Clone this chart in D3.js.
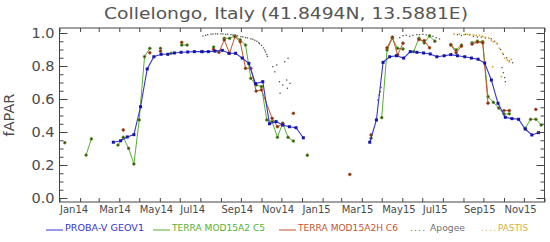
<!DOCTYPE html>
<html>
<head>
<meta charset="utf-8">
<script src="https://cdnjs.cloudflare.com/ajax/libs/d3/7.8.5/d3.min.js"></script>
<style>
    body { margin: 0; background: #ffffff; }
    svg { display: block; font-family: 'DejaVu Sans', sans-serif; }
</style>
</head>
<body>
<svg></svg>
<script>
// Chart texts
let title = 'Collelongo, Italy (41.8494N, 13.5881E)';
let yLabel = 'fAPAR';
let xDomain = ['2014-01-01', '2016-01-01'];
let yMajorTicks = [0, 0.2, 0.4, 0.6, 0.8, 1.0];
let yMinorTicks = [0.05, 0.1, 0.15, 0.25, 0.3, 0.35, 0.45, 0.5, 0.55, 0.65, 0.7, 0.75, 0.85, 0.9, 0.95];

// Series data: [date, fAPAR]; [null, null] breaks the line
let probaV = [
    ['2014-03-23', 0.338], ['2014-04-03', 0.347], ['2014-04-13', 0.37], ['2014-04-23', 0.384],
    ['2014-05-03', 0.553], ['2014-05-13', 0.782], ['2014-05-23', 0.856], ['2014-06-03', 0.871],
    ['2014-06-13', 0.871], ['2014-06-23', 0.879], ['2014-07-03', 0.883], ['2014-07-13', 0.885],
    ['2014-07-23', 0.887], ['2014-08-03', 0.887], ['2014-08-13', 0.887], ['2014-08-23', 0.89],
    ['2014-09-03', 0.895], ['2014-09-13', 0.877], ['2014-09-23', 0.877], ['2014-10-03', 0.848],
    ['2014-10-13', 0.816], ['2014-10-23', 0.693], ['2014-11-03', 0.705], ['2014-11-13', 0.45],
    ['2014-11-23', 0.463], ['2014-12-03', 0.442], ['2014-12-13', 0.432], ['2014-12-23', 0.426],
    ['2015-01-03', 0.365], [null, null],
    ['2015-04-13', 0.338], ['2015-04-23', 0.473], ['2015-05-03', 0.822], ['2015-05-13', 0.856],
    ['2015-05-23', 0.862], ['2015-06-03', 0.848], ['2015-06-13', 0.887], ['2015-06-23', 0.883],
    ['2015-07-03', 0.879], ['2015-07-13', 0.873], ['2015-07-23', 0.856], ['2015-08-03', 0.862],
    ['2015-08-13', 0.869], ['2015-08-23', 0.862], ['2015-09-03', 0.856], ['2015-09-13', 0.848],
    ['2015-09-23', 0.841], ['2015-10-03', 0.818], ['2015-10-13', 0.715], ['2015-10-23', 0.574],
    ['2015-11-03', 0.489], ['2015-11-13', 0.481], ['2015-11-23', 0.477], ['2015-12-03', 0.418],
    ['2015-12-13', 0.382], ['2015-12-23', 0.396]
];

let terraC5 = [
    ['2014-01-09', 0.335], [null, null],
    ['2014-02-10', 0.26], ['2014-02-18', 0.358], [null, null],
    ['2014-03-30', 0.321], ['2014-04-07', 0.368], ['2014-04-15', 0.301], ['2014-04-23', 0.206],
    ['2014-05-01', 0.473], ['2014-05-09', 0.856], ['2014-05-17', 0.907], [null, null],
    ['2014-06-02', 0.907], [null, null],
    ['2014-06-18', 0.877], [null, null],
    ['2014-07-04', 0.927], ['2014-07-12', 0.927], [null, null],
    ['2014-08-05', 0.887], [null, null],
    ['2014-08-21', 0.915], [null, null],
    ['2014-09-06', 0.968], ['2014-09-14', 0.968], ['2014-09-22', 0.982], ['2014-09-30', 0.958],
    ['2014-10-08', 0.927], ['2014-10-16', 0.725], ['2014-10-24', 0.685], ['2014-11-01', 0.675],
    ['2014-11-09', 0.473], ['2014-11-17', 0.463], ['2014-11-25', 0.368], ['2014-12-03', 0.453],
    ['2014-12-11', 0.368], ['2014-12-19', 0.345], [null, null],
    ['2015-01-09', 0.259], [null, null],
    ['2015-04-15', 0.362], [null, null],
    ['2015-05-01', 0.487], ['2015-05-09', 0.897], ['2015-05-17', 0.968], ['2015-05-25', 0.907],
    ['2015-06-02', 0.903], [null, null],
    ['2015-06-18', 0.887], ['2015-06-26', 0.968], ['2015-07-04', 0.94], ['2015-07-12', 0.982],
    ['2015-07-20', 0.95], [null, null],
    ['2015-08-13', 0.93], ['2015-08-21', 0.897], ['2015-08-29', 0.927], [null, null],
    ['2015-09-14', 0.94], ['2015-09-22', 0.95], ['2015-09-30', 0.947], ['2015-10-08', 0.614],
    ['2015-10-16', 0.58], ['2015-10-24', 0.545], ['2015-11-01', 0.509], ['2015-11-09', 0.51], [null, null],
    ['2015-12-03', 0.422], ['2015-12-11', 0.477], ['2015-12-19', 0.477], ['2015-12-27', 0.442]
];

let terraC6 = [
    ['2014-04-07', 0.412], [null, null],
    ['2014-05-17', 0.88], [null, null],
    ['2014-06-02', 0.89], [null, null],
    ['2014-07-04', 0.943], [null, null],
    ['2014-08-21', 0.9], ['2014-08-29', 0.883], ['2014-09-06', 0.958], ['2014-09-14', 0.877],
    ['2014-09-22', 0.978], ['2014-09-30', 0.947], ['2014-10-08', 0.786], ['2014-10-16', 0.786],
    ['2014-10-24', 0.648], ['2014-11-01', 0.655], ['2014-11-17', 0.483], ['2014-11-25', 0.432],
    ['2014-12-03', 0.45], [null, null],
    ['2014-12-19', 0.513], [null, null],
    ['2015-03-14', 0.143], [null, null],
    ['2015-04-15', 0.382], [null, null],
    ['2015-05-09', 0.91], ['2015-05-17', 0.975], ['2015-05-25', 0.867], ['2015-06-02', 0.938], [null, null],
    ['2015-06-26', 0.96], ['2015-07-04', 0.953], ['2015-07-12', 0.91], [null, null],
    ['2015-08-13', 0.927], ['2015-08-21', 0.88], ['2015-08-29', 0.92], [null, null],
    ['2015-09-14', 0.933], ['2015-09-22', 0.945], ['2015-09-30', 0.94], ['2015-10-08', 0.575], [null, null],
    ['2015-11-01', 0.53], ['2015-11-09', 0.53], [null, null],
    ['2015-12-19', 0.537]
];

let apogee = [
    ['2014-08-05', 0.982], ['2014-08-09', 0.986], ['2014-08-12', 0.99], ['2014-08-17', 0.993],
    ['2014-08-20', 0.994], ['2014-08-24', 0.995], ['2014-08-27', 0.994], ['2014-09-01', 0.995],
    ['2014-09-04', 0.994], ['2014-09-08', 0.992], ['2014-09-11', 0.993], ['2014-09-16', 0.99],
    ['2014-09-19', 0.988], ['2014-09-23', 0.985], ['2014-09-26', 0.983], ['2014-10-01', 0.978],
    ['2014-10-04', 0.977], ['2014-10-08', 0.972], ['2014-10-11', 0.97], ['2014-10-16', 0.965],
    ['2014-10-19', 0.962], ['2014-10-22', 0.956], ['2014-10-25', 0.95], ['2014-10-28', 0.942],
    ['2014-10-29', 0.935], ['2014-11-01', 0.925], ['2014-11-04', 0.91], ['2014-11-06', 0.897],
    ['2014-11-07', 0.885], ['2014-11-09', 0.87], ['2014-11-10', 0.858],
    ['2014-11-18', 0.796], ['2014-11-21', 0.765], ['2014-11-24', 0.806], ['2014-11-28', 0.705],
    ['2014-11-29', 0.635], ['2014-12-03', 0.685], ['2014-12-06', 0.826], ['2014-12-09', 0.715],
    ['2014-12-10', 0.665], ['2014-12-11', 0.847], ['2014-12-14', 0.695],
    ['2015-04-25', 0.594], ['2015-04-27', 0.624], ['2015-04-29', 0.644], ['2015-04-30', 0.67],
    ['2015-05-28', 0.972], ['2015-06-02', 0.984], ['2015-06-07', 0.986], ['2015-06-12', 0.98],
    ['2015-06-17', 0.985], ['2015-06-23', 0.99], ['2015-06-27', 0.99], ['2015-07-02', 0.992],
    ['2015-07-07', 0.988], ['2015-07-12', 0.985], ['2015-07-17', 0.98], ['2015-07-22', 0.972],
    ['2015-07-27', 0.964],
    ['2015-08-23', 0.99], ['2015-08-29', 0.985], ['2015-09-04', 0.992], ['2015-09-10', 0.988],
    ['2015-09-16', 0.98], ['2015-09-22', 0.975], ['2015-09-28', 0.975], ['2015-10-04', 0.97],
    ['2015-10-09', 0.968], ['2015-10-13', 0.965], ['2015-10-18', 0.95], ['2015-10-22', 0.935],
    ['2015-10-27', 0.9], ['2015-10-31', 0.87], ['2015-11-05', 0.85], ['2015-11-09', 0.83],
    ['2015-11-14', 0.82], ['2015-10-29', 0.79], ['2015-10-31', 0.76], ['2015-11-02', 0.73],
    ['2015-11-03', 0.705]
];

let pastis = [
    ['2015-08-18', 0.994], ['2015-08-26', 0.994], ['2015-09-02', 0.99], ['2015-09-07', 0.992],
    ['2015-09-11', 0.99], ['2015-09-16', 0.988], ['2015-09-20', 0.985], ['2015-09-25', 0.985],
    ['2015-09-30', 0.98], ['2015-10-04', 0.975], ['2015-10-09', 0.968], ['2015-10-13', 0.955],
    ['2015-10-16', 0.947], ['2015-10-21', 0.937], ['2015-10-25', 0.907], ['2015-10-30', 0.877],
    ['2015-11-02', 0.847], ['2015-11-06', 0.836], ['2015-11-09', 0.826], ['2015-11-12', 0.84],
    ['2015-10-15', 0.796], ['2015-10-28', 0.735]
];

// Legend entries
let legendLabels = ['PROBA-V GEOV1', 'TERRA MOD15A2 C5', 'TERRA MOD15A2H C6', 'Apogee', 'PASTIS'];
let legendColors = ['#3434d0', '#55b034', '#c4552f', '#707070', '#d2b040'];

// SVG Dimensions Variables
let width = 550, height = 242;
let plotLeft = 59.5, plotRight = 544.5, plotTop = 28, plotBottom = 202;
let textColor = '#4a4a4a';

let svg = d3.select('svg');
let xScale, yScale;
let parseDate = d3.utcParse('%Y-%m-%d');

function drawSvg() {
    svg.attr('width', width)
        .attr('height', height);
}

function generateScales() {
    xScale = d3.scaleUtc()
        .domain(xDomain.map(parseDate))
        .range([plotLeft, plotRight]);

    yScale = d3.scaleLinear()
        .domain([0, 1])
        .range([198, 33]);
}

function styleAxis(g) {
    g.select('.domain').remove();
    g.selectAll('line').attr('stroke', '#444444');
    g.selectAll('text').attr('fill', textColor).attr('font-family', 'DejaVu Sans, sans-serif');
}

function generateAxes() {
    let months = d3.utcMonth.range(xScale.domain()[0], d3.utcDay.offset(xScale.domain()[1], 1));
    let monthFormat = d3.utcFormat('%b%y');

    // bottom axis, ticks point into the plot
    let xAxis = d3.axisBottom(xScale)
        .tickValues(months)
        .tickSizeInner(-4)
        .tickSizeOuter(0)
        .tickPadding(4)
        .tickFormat((d) => (d.getUTCMonth() % 2 === 0 && d.getUTCFullYear() < 2016) ? monthFormat(d) : '');
    svg.append('g')
        .attr('transform', `translate(0, ${plotBottom})`)
        .call(xAxis)
        .call(styleAxis)
        .selectAll('text')
        .attr('text-anchor', 'start')
        .attr('font-size', 10);

    // top axis
    svg.append('g')
        .attr('transform', `translate(0, ${plotTop})`)
        .call(d3.axisTop(xScale).tickValues(months).tickSizeInner(-4).tickSizeOuter(0).tickFormat(''))
        .call(styleAxis);

    // left axis, majors with labels and minors
    svg.append('g')
        .attr('transform', `translate(${plotLeft}, 0)`)
        .call(d3.axisLeft(yScale).tickValues(yMajorTicks).tickSizeInner(-8).tickSizeOuter(0)
            .tickPadding(5).tickFormat(d3.format('.1f')))
        .call(styleAxis)
        .selectAll('text')
        .attr('font-size', 14.5);
    svg.append('g')
        .attr('transform', `translate(${plotLeft}, 0)`)
        .call(d3.axisLeft(yScale).tickValues(yMinorTicks).tickSizeInner(-4).tickSizeOuter(0).tickFormat(''))
        .call(styleAxis);

    // right axis
    svg.append('g')
        .attr('transform', `translate(${plotRight}, 0)`)
        .call(d3.axisRight(yScale).tickValues(yMajorTicks).tickSizeInner(-8).tickSizeOuter(0).tickFormat(''))
        .call(styleAxis);
    svg.append('g')
        .attr('transform', `translate(${plotRight}, 0)`)
        .call(d3.axisRight(yScale).tickValues(yMinorTicks).tickSizeInner(-4).tickSizeOuter(0).tickFormat(''))
        .call(styleAxis);

    // frame
    svg.append('rect')
        .attr('x', plotLeft)
        .attr('y', plotTop)
        .attr('width', plotRight - plotLeft)
        .attr('height', plotBottom - plotTop)
        .attr('fill', 'none')
        .attr('stroke', '#444444')
        .attr('stroke-width', 1);
}

function toPoints(data) {
    return data.map((d) => ({ date: d[0] ? parseDate(d[0]) : null, value: d[1] }));
}

// Lines with dark-centred dots (MODIS series)
function drawModis(data, color) {
    let pts = toPoints(data);
    let line = d3.line()
        .defined((d) => d.value !== null)
        .x((d) => xScale(d.date))
        .y((d) => yScale(d.value));

    svg.append('path')
        .datum(pts)
        .attr('d', line)
        .attr('fill', 'none')
        .attr('stroke', color)
        .attr('stroke-width', 1);

    svg.append('g')
        .selectAll('circle')
        .data(pts.filter((d) => d.value !== null))
        .enter()
        .append('circle')
        .attr('cx', (d) => xScale(d.date))
        .attr('cy', (d) => yScale(d.value))
        .attr('r', 1.4)
        .attr('fill', '#5a3410')
        .attr('stroke', color)
        .attr('stroke-width', 0.7);
}

function drawProba(data) {
    let pts = toPoints(data);
    let line = d3.line()
        .defined((d) => d.value !== null)
        .x((d) => xScale(d.date))
        .y((d) => yScale(d.value));

    svg.append('path')
        .datum(pts)
        .attr('d', line)
        .attr('fill', 'none')
        .attr('stroke', legendColors[0])
        .attr('stroke-width', 1.1);

    svg.append('g')
        .selectAll('rect')
        .data(pts.filter((d) => d.value !== null))
        .enter()
        .append('rect')
        .attr('x', (d) => xScale(d.date) - 1.5)
        .attr('y', (d) => yScale(d.value) - 1.5)
        .attr('width', 3)
        .attr('height', 3)
        .attr('fill', '#1414a8');
}

// Small scattered dots (in-situ series)
function drawDots(data, color, size) {
    svg.append('g')
        .selectAll('rect')
        .data(toPoints(data))
        .enter()
        .append('rect')
        .attr('x', (d) => xScale(d.date) - size / 2)
        .attr('y', (d) => yScale(d.value) - size / 2)
        .attr('width', size)
        .attr('height', size)
        .attr('fill', color);
}

function drawTexts() {
    svg.append('text')
        .attr('x', 286)
        .attr('y', 19)
        .attr('text-anchor', 'middle')
        .attr('font-size', 16)
        .attr('textLength', 364)
        .attr('lengthAdjust', 'spacingAndGlyphs')
        .attr('fill', '#555555')
        .text(title);

    svg.append('text')
        .attr('transform', 'translate(14, 115) rotate(-90)')
        .attr('text-anchor', 'middle')
        .attr('font-size', 14.5)
        .attr('fill', textColor)
        .text(yLabel);
}

function drawLegend() {
    let lineX = [46, 153, 279];
    let textX = [65, 172, 298, 430, 498];
    let textW = [79, 93, 100, 35, 30];
    let dotsX = [410, 481];
    let baseY = 231;

    lineX.forEach((x, i) => {
        svg.append('line')
            .attr('x1', x).attr('x2', x + 17)
            .attr('y1', baseY - 1).attr('y2', baseY - 1)
            .attr('stroke', legendColors[i])
            .attr('stroke-width', 1);
    });

    dotsX.forEach((x, i) => {
        svg.append('text')
            .attr('x', x).attr('y', baseY)
            .attr('font-size', 9)
            .attr('textLength', 15)
            .attr('fill', legendColors[3 + i])
            .text('....');
    });

    legendLabels.forEach((label, i) => {
        svg.append('text')
            .attr('x', textX[i])
            .attr('y', baseY)
            .attr('font-size', 9)
            .attr('textLength', textW[i])
            .attr('lengthAdjust', 'spacingAndGlyphs')
            .attr('fill', legendColors[i])
            .text(label);
    });
}

drawSvg();
generateScales();
drawDots(apogee, '#555555', 1.3);
drawDots(pastis, legendColors[4], 1.7);
drawModis(terraC5, legendColors[1]);
drawModis(terraC6, legendColors[2]);
drawProba(probaV);
generateAxes();
drawTexts();
drawLegend();
</script>
</body>
</html>
